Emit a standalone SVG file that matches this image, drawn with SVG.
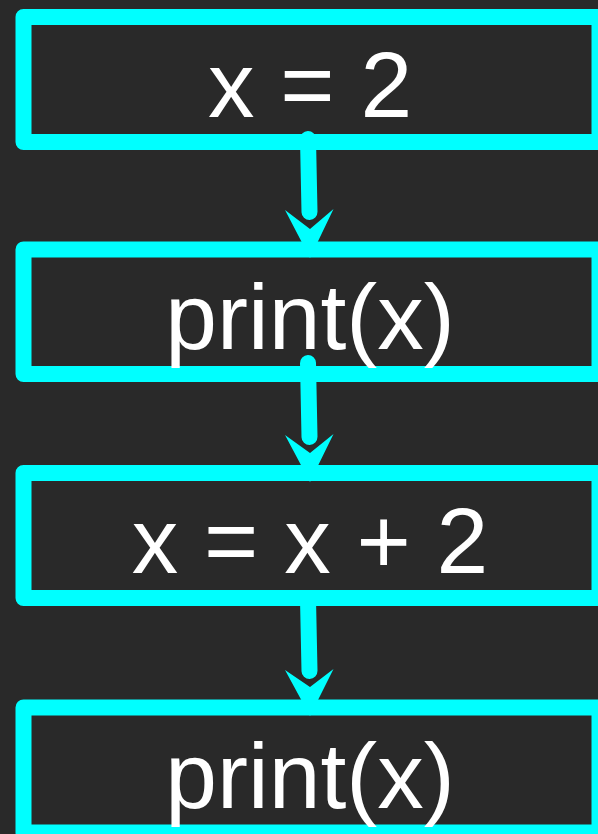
<svg xmlns="http://www.w3.org/2000/svg" width="598" height="834" viewBox="0 0 598 834">
  <style>
    .box { fill: #292929; stroke: #00FFFF; stroke-width: 16; stroke-linejoin: round; }
    .lbl { fill: #FFFFFF; font-family: "Liberation Sans", Arial, sans-serif; font-size: 93px; text-anchor: middle; }
    .line { fill: none; stroke: #00FFFF; stroke-width: 16; stroke-linecap: round; }
    .head { fill: #00FFFF; stroke: none; }
  </style>
  <rect x="0" y="0" width="598" height="834" fill="#292929"/>
  <g id="n1">
    <rect class="box" x="23.5" y="17" width="576" height="125"/>
    <text class="lbl" x="310" y="116.7">x = 2</text>
  </g>
  <g id="n2">
    <rect class="box" x="23.5" y="249.5" width="576" height="124.5"/>
    <text class="lbl" x="310" y="349.3">print(x)</text>
  </g>
  <g id="n3">
    <rect class="box" x="23.5" y="473" width="576" height="125"/>
    <text class="lbl" x="310" y="573.3">x = x + 2</text>
  </g>
  <g id="n4">
    <rect class="box" x="23.5" y="707.5" width="576" height="125"/>
    <text class="lbl" x="310" y="807.5">print(x)</text>
  </g>
  <g id="connectors">
    <g id="e1">
      <line class="line" x1="308" y1="139" x2="309.5" y2="212"/>
      <path class="head" d="M285,210 L310,258 L333.5,209 L310,229 Z"/>
    </g>
    <g id="e2">
      <line class="line" x1="308" y1="363" x2="309.5" y2="437"/>
      <path class="head" d="M285,435 L310,482 L333.5,434 L310,453 Z"/>
    </g>
    <g id="e3">
      <line class="line" x1="308" y1="599" x2="309.5" y2="671"/>
      <path class="head" d="M285,670 L310,716 L333.5,669 L310,687 Z"/>
    </g>
  </g>
</svg>
